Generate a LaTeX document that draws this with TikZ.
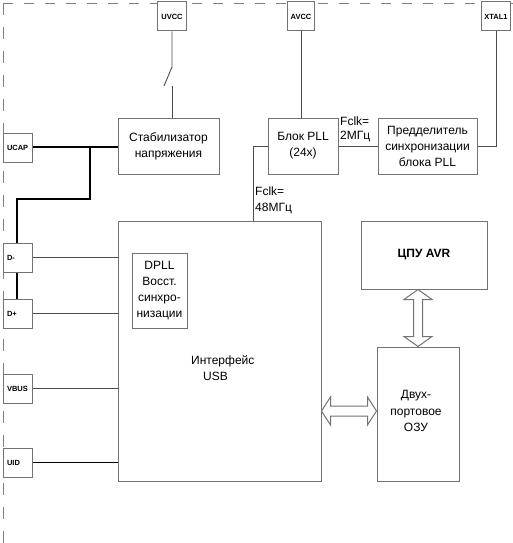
\documentclass[tikz,border=0pt]{standalone}
\usepackage{fontspec}
\setmainfont{Liberation Sans}
\begin{document}
\begin{tikzpicture}[x=1pt,y=-1pt,
  box/.style={draw=black!55, line width=1pt, fill=white, inner sep=0pt, align=center,
    font=\fontsize{12}{16}\selectfont},
  pin/.style={draw=black!55, line width=1pt, fill=white, inner sep=0pt,
    minimum width=29pt, minimum height=29pt, font=\fontsize{7.5}{9}\selectfont\bfseries},
  lpin/.style={pin, inner xsep=4pt, text width=21pt, align=left},
  wire/.style={draw=black!70, line width=0.9pt},
  thick wire/.style={draw=black, line width=2pt},
  label/.style={inner sep=0pt, align=left, anchor=west},
  bigarrow/.style={draw=black!55, line width=1pt, fill=white, line join=miter}]
\useasboundingbox (0,0) rectangle (513,543);
% dashed frame (top and left)
\draw[black!50, line width=1pt, dash pattern=on 10pt off 11pt] (3,3.5) -- (513,3.5);
\draw[black!50, line width=1pt, dash pattern=on 12pt off 12pt] (3.5,3) -- (3.5,543);

% top pins
\node[pin] (uvcc) at (172,16.5) {UVCC};
\node[pin, minimum width=27pt] (avcc) at (301,16.5) {AVCC};
\node[pin] (xtal) at (496,16.5) {XTAL1};

% blocks
\node[box, minimum width=101pt, minimum height=56pt] (stab) at (168.5,146) {Стабилизатор\\напряжения};
\node[box, minimum width=70pt, minimum height=56pt] (pll) at (303,146) {Блок PLL\\(24x)};
\node[box, minimum width=99pt, minimum height=56pt] (pre) at (427.5,146) {Предделитель\\синхронизации\\блока PLL};
\node[box, minimum width=203pt, minimum height=260pt] (usb) at (219.5,351) {};
\node[box, minimum width=55pt, minimum height=75pt] (dpll) at (159.5,290.5) {DPLL\\Восст.\\синхро-\\низации};
\node[label, font=\fontsize{12}{16}\selectfont] (usbtext) at (191,368) {Интерфейс\\\hspace*{12pt}USB};
\node[box, minimum width=126pt, minimum height=68pt, font=\fontsize{12}{16}\selectfont\bfseries] (cpu) at (424,255) {ЦПУ AVR};
\node[box, minimum width=82pt, minimum height=134pt] (ram) at (418,414) {};
\node[inner sep=0pt, align=center, font=\fontsize{12}{16.5}\selectfont] (ramtext) at (416,411) {Двух-\\портовое\\ОЗУ};

% left pins
\node[lpin] (ucap) at (17.5,147.5) {UCAP};
\node[lpin] (dm) at (17.5,257.5) {D-};
\node[lpin] (dp) at (17.5,313.5) {D+};
\node[lpin] (vbus) at (17.5,388.5) {VBUS};
\node[lpin] (uid) at (17.5,462.5) {UID};

% UVCC with switch
\coordinate (sw1) at (172,67);
\coordinate (sw2) at (164,86);
\coordinate (sw3) at (172,86);
\draw[wire] (uvcc.south) -- (sw1) -- (sw2);
\draw[wire] (sw3) -- (sw3 |- stab.north);

% thick supply lines
\coordinate (j1) at (90,146.5);
\coordinate (j2) at (90,199);
\coordinate (j3) at (17,199);
\draw[thick wire] (ucap.east |- j1) -- (stab.west |- j1);
\draw[thick wire, line join=miter] (j1) -- (j2) -- (j3) -- (j3 |- dm.north);
\draw[thick wire] (dm.south -| j3) -- (dp.north -| j3);

% pin lines to USB
\draw[wire] (dm.east) -- (dm.east -| usb.west);
\draw[wire] (dp.east) -- (dp.east -| usb.west);
\draw[wire] (vbus.east) -- (vbus.east -| usb.west);
\draw[wire, black] (uid.east) -- (uid.east -| usb.west);

% PLL connections
\draw[wire] (avcc.south) -- (avcc.south |- pll.north);
\draw[wire] (pll.east) -- (pre.west);
\draw[wire] (xtal.south) |- (pre.east);
\coordinate (fc) at (253,146);
\draw[wire] (pll.west) -- (fc) -- (fc |- usb.north);

% labels
\node[label, font=\fontsize{12}{13.5}\selectfont] (f2) at (340,129.5) {Fclk=\\2МГц};
\node[label, font=\fontsize{12}{16}\selectfont] (f48) at (255,200) {Fclk=\\48МГц};

% vertical double arrow CPU <-> RAM
\coordinate (vt) at (cpu.south -| 418,0);
\coordinate (vb) at (ram.north -| 418,0);
\draw[bigarrow] (vt) -- ([shift={(14,10)}]vt) -- ([shift={(4.5,10)}]vt)
  -- ([shift={(4.5,-10)}]vb) -- ([shift={(14,-10)}]vb) -- (vb)
  -- ([shift={(-14,-10)}]vb) -- ([shift={(-4.5,-10)}]vb)
  -- ([shift={(-4.5,10)}]vt) -- ([shift={(-14,10)}]vt) -- cycle;

% horizontal double arrow USB <-> RAM
\coordinate (hl) at (usb.east |- 0,411);
\coordinate (hr) at (ram.west |- 0,411);
\draw[bigarrow] (hl) -- ([shift={(9,-14)}]hl) -- ([shift={(9,-5)}]hl)
  -- ([shift={(-9,-5)}]hr) -- ([shift={(-9,-14)}]hr) -- (hr)
  -- ([shift={(-9,14)}]hr) -- ([shift={(-9,5)}]hr)
  -- ([shift={(9,5)}]hl) -- ([shift={(9,14)}]hl) -- cycle;
\end{tikzpicture}
\end{document}
